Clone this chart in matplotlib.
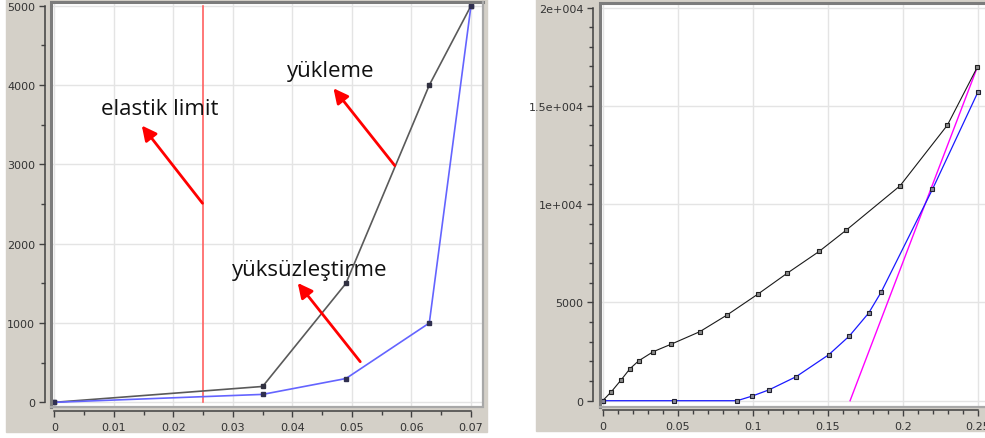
import matplotlib
matplotlib.use("Agg")
import matplotlib.pyplot as plt
from matplotlib.patches import Rectangle
from matplotlib.ticker import MultipleLocator

# left panel: loading / unloading curves
left_x = [0, 0.035, 0.049, 0.063, 0.07]
left_load = [0, 200, 1500, 4000, 5000]
left_unload = [0, 100, 300, 1000, 5000]
elastic_limit = 0.025
left_xticks = [0, 0.01, 0.02, 0.03, 0.04, 0.05, 0.06, 0.07]
left_xlabels = ["0", "0.01", "0.02", "0.03", "0.04", "0.05", "0.06", "0.07"]
left_yticks = [0, 1000, 2000, 3000, 4000, 5000]
left_ylabels = ["0", "1000", "2000", "3000", "4000", "5000"]

# right panel
load_x = [0, 0.0058, 0.0122, 0.0182, 0.024, 0.0336, 0.0458, 0.0647, 0.0831,
          0.1038, 0.1229, 0.1442, 0.1624, 0.1982, 0.2298, 0.2498]
load_y = [0, 460, 1050, 1630, 2030, 2490, 2880, 3510, 4370,
          5440, 6480, 7590, 8680, 10930, 14020, 16980]
unload_x = [0, 0.0476, 0.0896, 0.0998, 0.1111, 0.1289, 0.1507, 0.1644,
            0.1773, 0.1856, 0.2198, 0.25]
unload_y = [0, 0, 0, 240, 560, 1220, 2340, 3290, 4460, 5520, 10750, 15680]
tangent_x = [0.1649, 0.2498]
tangent_y = [0, 16980]
right_xticks = [0, 0.05, 0.1, 0.15, 0.2, 0.25]
right_xlabels = ["0", "0.05", "0.1", "0.15", "0.2", "0.25"]
right_yticks = [0, 5000, 10000, 15000, 20000]
right_ylabels = ["0", "5000", "1e+004", "1.5e+004", "2e+004"]

W, H = 985, 439
GRAY = "#d4d0c8"
AXC = "#404040"


def px_rect(x0, y0, x1, y1):
    return [x0 / W, 1 - y1 / H, (x1 - x0) / W, (y1 - y0) / H]


def style_axes(ax, xticks, xlabels, yticks, ylabels, xminor, yminor, xoff, yoff):
    ax.set_facecolor("white")
    for s in ("top", "right"):
        ax.spines[s].set_visible(False)
    ax.spines["left"].set_position(("outward", yoff))
    ax.spines["bottom"].set_position(("outward", xoff))
    ax.spines["left"].set_bounds(yticks[0], yticks[-1])
    ax.spines["bottom"].set_bounds(xticks[0], xticks[-1])
    for s in ("left", "bottom"):
        ax.spines[s].set_color(AXC)
        ax.spines[s].set_linewidth(1.1)
    ax.set_xticks(xticks)
    ax.set_xticklabels(xlabels)
    ax.set_yticks(yticks)
    ax.set_yticklabels(ylabels)
    ax.xaxis.set_minor_locator(MultipleLocator(xminor))
    ax.yaxis.set_minor_locator(MultipleLocator(yminor))
    ax.tick_params(which="major", length=4.5, width=1, color=AXC,
                   labelsize=8, labelcolor="#333333", pad=2.5)
    ax.tick_params(axis="x", which="major", pad=3.5)
    ax.tick_params(which="minor", length=2.8, width=1, color=AXC)
    ax.grid(True, which="major", color="#e4e4e4", lw=1)
    ax.set_axisbelow(True)
    # sunken canvas frame: dark top/left, lighter bottom/right
    ax.plot([0, 0, 1], [0, 1, 1], transform=ax.transAxes, color="#7c7c7c",
            lw=2.2, clip_on=False, zorder=5, solid_joinstyle="miter")
    ax.plot([0, 1, 1], [0, 0, 1], transform=ax.transAxes, color="#a8a8a8",
            lw=1.6, clip_on=False, zorder=5, solid_joinstyle="miter")


fig = plt.figure(figsize=(9.85, 4.39), dpi=100)
fig.patches.append(Rectangle((6 / W, 1 - 433 / H), 481 / W, 433 / H,
                             transform=fig.transFigure, color=GRAY, zorder=-10))
fig.patches.append(Rectangle((536 / W, 1 - 432 / H), 449 / W, 432 / H,
                             transform=fig.transFigure, color=GRAY, zorder=-10))

# ---- left panel ----
ax1 = fig.add_axes(px_rect(51, 3, 483, 408))
style_axes(ax1, left_xticks, left_xlabels, left_yticks, left_ylabels,
           0.005, 500, 3.0, 4.3)
ax1.set_xlim(-0.00055, 0.07202)
ax1.set_ylim(-59, 5048)
ax1.plot([elastic_limit, elastic_limit], [0, 5000], color="#ff6060", lw=1.2)
ax1.plot(left_x, left_load, color="#5a5a5a", lw=1.2, marker="s", ms=2.8,
         mfc="#303040", mec="#303040")
ax1.plot(left_x, left_unload, color="#6464ff", lw=1.2, marker="s", ms=2.8,
         mfc="#303050", mec="#303050")

# hand-drawn labels and arrows
arrow = dict(arrowstyle="-|>", color="#ff0000", lw=2, mutation_scale=22,
             shrinkA=0, shrinkB=0)
ax1.annotate("", xy=(0.0147, 3490), xytext=(0.0249, 2510), arrowprops=arrow)
ax1.annotate("", xy=(0.0469, 3960), xytext=(0.0572, 2985), arrowprops=arrow)
ax1.annotate("", xy=(0.0409, 1505), xytext=(0.0514, 512), arrowprops=arrow)
txt = dict(fontsize=16, family="Open Sans", color="#111111", va="center",
           ha="left", zorder=6)
ax1.text(0.0078, 3700, "elastik limit", **txt)
ax1.text(0.0391, 4180, "yükleme", **txt)
ax1.text(0.0299, 1670, "yüksüzleştirme", **txt)

# ---- right panel ----
ax2 = fig.add_axes(px_rect(600, 4, 995, 408))
style_axes(ax2, right_xticks, right_xlabels, right_yticks, right_ylabels,
           0.01, 1000, 2.2, 5.0)
ax2.set_xlim(-0.0018, 0.2615)
ax2.set_ylim(-320, 20229)
ax2.plot(tangent_x, tangent_y, color="#ff00ff", lw=1)
ax2.plot(load_x, load_y, color="#1a1a1a", lw=0.8, marker="s", ms=3.3,
         mfc="#8a8a8a", mec="#202020", mew=0.8)
ax2.plot(unload_x, unload_y, color="#1a1aff", lw=0.9, marker="s", ms=3.3,
         mfc="#8a8a9a", mec="#202030", mew=0.8)

fig.savefig("out.png", dpi=100)
